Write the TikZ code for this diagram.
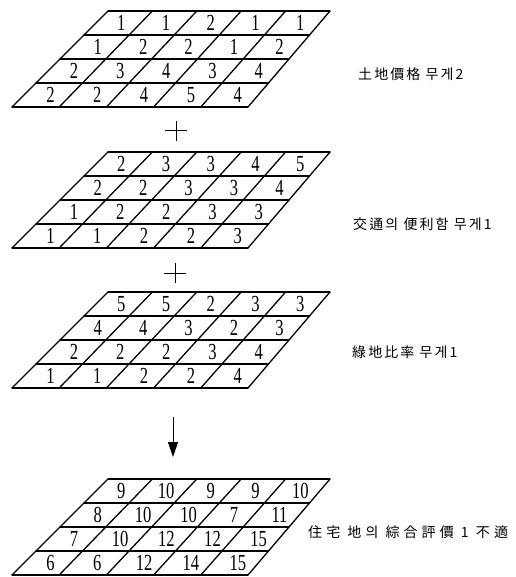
\documentclass[tikz,border=0pt]{standalone}
\usepackage{fontspec}
\usepackage{graphicx}
\usetikzlibrary{arrows.meta}
\setmainfont{Liberation Serif}
\newfontfamily\krfont[LetterSpace=15]{Noto Sans CJK KR}
\newfontfamily\krwidefont[LetterSpace=29]{Noto Sans CJK KR}
\newcommand{\cellnum}[1]{\scalebox{0.72}[1]{\fontsize{23}{23}\selectfont #1}}
\tikzset{
  gridline/.style={line width=1.3pt, line cap=round, line join=round},
  num/.style={inner sep=0pt, anchor=center},
  lbl/.style={inner sep=0pt, anchor=west, font=\fontsize{14}{14}\selectfont\krfont},
  plusline/.style={line width=1pt},
}
% #1 name, #2 top y, #3 data rows
\newcommand{\drawgrid}[3]{%
  \foreach \vv in {0,...,4}{
    \pgfmathsetmacro\gy{#2+24*\vv}
    \pgfmathsetmacro\xl{(1-\vv/4)*108+(\vv/4)*12}
    \pgfmathsetmacro\xr{(1-\vv/4)*330+(\vv/4)*248}
    \coordinate (#1-h\vv-l) at (\xl,\gy);
    \coordinate (#1-h\vv-r) at (\xr,\gy);
    \draw[gridline] (#1-h\vv-l) -- (#1-h\vv-r);
  }
  \foreach \uu in {0,...,5}{
    \pgfmathsetmacro\xt{108+\uu*44.4}
    \pgfmathsetmacro\xb{12+\uu*47.2}
    \coordinate (#1-v\uu-t) at (\xt,#2);
    \coordinate (#1-v\uu-b) at (\xb,#2+96);
    \draw[gridline] (#1-v\uu-t) -- (#1-v\uu-b);
  }
  \foreach \rowlist [count=\ri] in {#3}{
    \foreach \val [count=\ci] in \rowlist {
      \pgfmathsetmacro\vv{\ri-0.5}
      \pgfmathsetmacro\uu{\ci-0.5}
      \pgfmathsetmacro\nx{(1-\vv/4)*(108+\uu*44.4)+(\vv/4)*(12+\uu*47.2)+3}
      \pgfmathsetmacro\ny{#2+24*\vv}
      \node[num] (#1-\ri-\ci) at (\nx,\ny) {\cellnum{\val}};
    }
  }
}
\begin{document}
\begin{tikzpicture}[x=1pt,y=-1pt]
\useasboundingbox (0,0) rectangle (515,577);
\fill[white] (0,0) rectangle (515,577);

\drawgrid{ga}{11}{{1,1,2,1,1},{1,2,2,1,2},{2,3,4,3,4},{2,2,4,5,4}}
\drawgrid{gb}{152}{{2,3,3,4,5},{2,2,3,3,4},{1,2,2,3,3},{1,1,2,2,3}}
\drawgrid{gc}{292}{{5,5,2,3,3},{4,4,3,2,3},{2,2,2,3,4},{1,1,2,2,4}}
\drawgrid{gd}{479}{{9,10,9,9,10},{8,10,10,7,11},{7,10,12,12,15},{6,6,12,14,15}}

\node[lbl] (laba) at (358,74) {土地價格 무게2};
\node[lbl] (labb) at (353,224) {交通의 便利함 무게1};
\node[lbl] (labc) at (352,352) {綠地比率 무게1};
\node[lbl, font=\fontsize{14}{14}\selectfont\krwidefont] (labd) at (308,532) {住宅 地의 綜合評價 1 不適};

\coordinate (plusa) at (176,131);
\draw[plusline] ([xshift=-11pt]plusa) -- ([xshift=11pt]plusa);
\draw[plusline] ([yshift=10pt]plusa) -- ([yshift=-10pt]plusa);
\coordinate (plusb) at (175,273);
\draw[plusline] ([xshift=-11pt]plusb) -- ([xshift=11pt]plusb);
\draw[plusline] ([yshift=10pt]plusb) -- ([yshift=-10pt]plusb);

\coordinate (arra) at (173,417);
\coordinate (arrb) at (173,457);
\draw[line width=1pt, -{Triangle[width=10pt,length=15pt]}] (arra) -- (arrb);
\end{tikzpicture}
\end{document}
